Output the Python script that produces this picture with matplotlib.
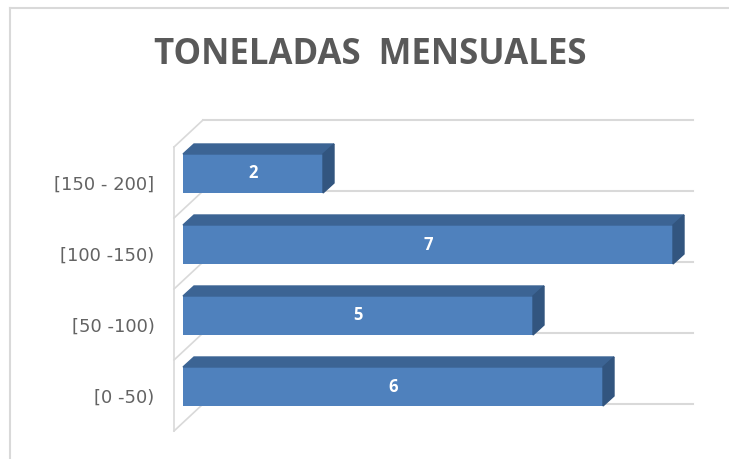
import matplotlib
matplotlib.use('Agg')
import matplotlib.pyplot as plt
from matplotlib.patches import Polygon
from matplotlib.lines import Line2D

categories = ['[0 -50)', '[50 -100)', '[100 -150)', '[150 - 200]']
values = [6, 5, 7, 2]
title = 'TONELADAS  MENSUALES'

W, H = 729, 459
fig = plt.figure(figsize=(W / 100, H / 100), dpi=100)
fig.patch.set_facecolor('white')

# front plane of the plot area in pixels
left, right, top, bottom = 174, 664, 147, 431
ax = fig.add_axes([left / W, (H - bottom) / H, (right - left) / W, (bottom - top) / H])
xmax = 7
ax.set_xlim(0, xmax)
ax.set_ylim(-0.5, len(categories) - 0.5)
for s in ax.spines.values(): s.set_visible(False)
ax.set_xticks([])
ax.set_yticks(range(len(categories)))
ax.set_yticklabels(categories, fontsize=13, color='#636363', family='DejaVu Sans')
ax.tick_params(axis='y', length=0, pad=14)
ax.set_facecolor('none')

pxx = (right - left) / xmax            # pixels per unit on x
pxy = (bottom - top) / len(categories)  # pixels per unit on y

def off(x, y, dx, dy): #shift a data point by a pixel offset (oblique depth)
    return (x + dx / pxx, y + dy / pxy)

grid_c = '#d9d9d9'
wall = (29, 27)
# back wall gridlines and the left wall
for k in range(len(categories) + 1):
    yk = -0.5 + k
    p0, p1 = off(0, yk, *wall), off(xmax, yk, *wall)
    ax.add_line(Line2D([p0[0], p1[0]], [p0[1], p1[1]], color=grid_c, lw=1.5, zorder=1, clip_on=False))
    ax.add_line(Line2D([0, p0[0]], [yk, p0[1]], color=grid_c, lw=1.2, zorder=1, clip_on=False))
ax.add_line(Line2D([0, 0], [-0.5, len(categories) - 0.5], color=grid_c, lw=1.2, zorder=1, clip_on=False))

# 3D-looking bars
front_c, top_c, side_c = '#4f81bd', '#3c6494', '#32557f'
bar_h = 39 / pxy
fo = (9, 9)     # front face offset from the front plane
depth = (11, 10)
for i, v in enumerate(values):
    x0, y0 = off(0, i - bar_h / 2, *fo)
    x1, y1 = off(v, i + bar_h / 2, *fo)
    ax.barh(y0 + bar_h / 2, x1 - x0, height=bar_h, left=x0, color=front_c, zorder=3 + i, clip_on=False)
    topf = [(x0, y1), (x1, y1), off(x1, y1, *depth), off(x0, y1, *depth)]
    side = [(x1, y0), (x1, y1), off(x1, y1, *depth), off(x1, y0, *depth)]
    ax.add_patch(Polygon(topf, closed=True, color=top_c, zorder=3 + i, clip_on=False))
    ax.add_patch(Polygon(side, closed=True, color=side_c, zorder=3 + i, clip_on=False))
    ax.text((x0 + x1) / 2, y0 + bar_h / 2, str(v), color='white', fontsize=12, fontweight='bold',
            ha='center', va='center', zorder=10, family='Open Sans')

fig.text(370 / W, 1 - 55 / H, title, ha='center', va='center', fontsize=25, fontweight='bold',
         color='#595959', family='Open Sans')

# chart frame
fig.add_artist(Line2D([10 / W, 10 / W], [0, 1 - 8 / H], color=grid_c, lw=1.5))
fig.add_artist(Line2D([10 / W, 1], [1 - 8 / H, 1 - 8 / H], color=grid_c, lw=1.5))

fig.savefig('out.png', dpi=100)
